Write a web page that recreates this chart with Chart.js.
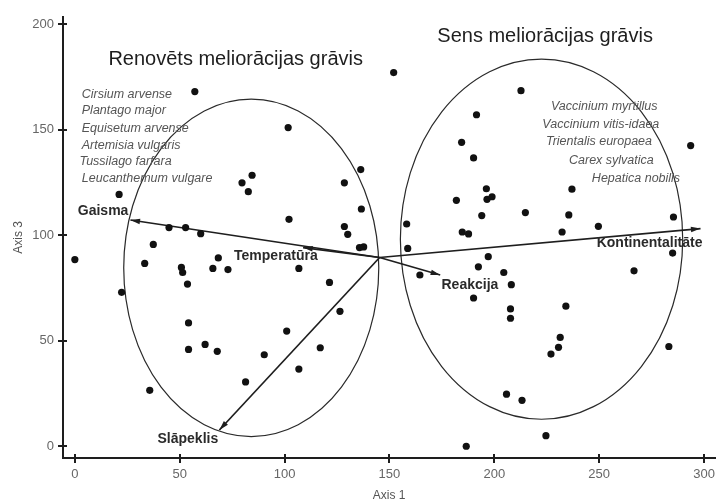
<!DOCTYPE html>
<html>
<head>
<meta charset="utf-8">
<script src="https://cdn.jsdelivr.net/npm/chart.js@4.4.1/dist/chart.umd.min.js"></script>
<style>
  html, body { margin: 0; padding: 0; background: #fff; }
  #wrap { width: 724px; height: 503px; }
</style>
</head>
<body>
<div id="wrap"><canvas id="ordination"></canvas></div>
<script>
// plot scores on Axis 1 / Axis 3 - renovated ditch
const renovX = [57.2, 21.1, 44.9, 52.8, 60.0, 37.4, 0, 68.4, 101.7, 84.5, 79.7, 82.7, 128.5, 136.3,
  136.6, 102.1, 128.5, 130.1, 135.7, 137.7, 33.3, 50.8, 51.4, 53.7, 65.8, 73.0, 106.8, 121.4, 126.4,
  22.3, 54.2, 101.0, 54.2, 62.1, 67.9, 90.3, 117.0, 106.8, 81.4, 35.7];
const renovY = [168.1, 119.3, 103.6, 103.6, 100.7, 95.6, 88.4, 89.2, 151.0, 128.4, 124.8, 120.6, 124.8, 131.1,
  112.4, 107.5, 104.1, 100.4, 94.1, 94.4, 86.6, 84.7, 82.3, 76.8, 84.2, 83.7, 84.2, 77.6, 63.9,
  72.9, 58.4, 54.5, 45.8, 48.2, 44.9, 43.3, 46.6, 36.5, 30.4, 26.4];

// old ditch
const sensX = [152.0, 212.7, 191.5, 184.4, 190.1, 196.2, 196.5, 198.9, 181.9, 214.8, 194.0, 158.2, 184.7,
  187.7, 158.7, 197.1, 293.6, 237.0, 235.5, 249.6, 232.3, 285.4, 285.0, 192.4, 164.5, 204.5, 208.1,
  190.1, 207.7, 207.7, 234.1, 266.6, 231.4, 230.6, 227.0, 283.2, 205.8, 213.2, 224.6, 186.6];
const sensY = [177.1, 168.5, 157.1, 144.0, 136.6, 122.0, 117.0, 118.2, 116.5, 110.7, 109.3, 105.3, 101.5,
  100.6, 93.7, 89.8, 142.5, 121.8, 109.6, 104.2, 101.5, 108.6, 91.5, 85.0, 81.1, 82.3, 76.5,
  70.2, 65.0, 60.6, 66.3, 83.1, 51.5, 46.8, 43.6, 47.2, 24.6, 21.7, 4.9, -0.1];

const xTicks = [0, 50, 100, 150, 200, 250, 300];
const yTicks = [0, 50, 100, 150, 200];

// environmental vectors (from a common origin)
const vecOrigin = [145.3, 89.4];
const vecNames = ['Gaisma', 'Temperatūra', 'Reakcija', 'Kontinentalitāte', 'Slāpeklis'];
const vecEndX = [26.5, 108.8, 174.2, 298.3, 68.9];
const vecEndY = [107.2, 94.1, 81.1, 103.1, 7.6];

// group ellipses
const ellCx = [84.1, 222.5];
const ellCy = [84.5, 98.1];
const ellRx = [60.8, 67.3];
const ellRy = [80.0, 85.4];

const groupNames = ['Renovēts meliorācijas grāvis', 'Sens meliorācijas grāvis'];
const renovSpecies = ['Cirsium arvense', 'Plantago major', 'Equisetum arvense', 'Artemisia vulgaris',
  'Tussilago farfara', 'Leucanthemum vulgare'];
const sensSpecies = ['Vaccinium myrtillus', 'Vaccinium vitis-idaea', 'Trientalis europaea',
  'Carex sylvatica', 'Hepatica nobilis'];

const FONT = '"Liberation Sans", Arial, sans-serif';

// where the texts sit, in data units
const titlePos = [[16.0, 183.2], [172.8, 194.1]];
const renovSpPos = [[3.3, 166.6], [3.3, 159.0], [3.3, 150.5], [3.3, 142.5], [2.2, 135.1], [3.3, 126.9]];
const sensSpPos = [[227.0, 161.0], [222.9, 152.7], [224.6, 144.2], [235.6, 135.4], [246.5, 126.7]];
const vecLabelPos = [[1.4, 111.5], [75.9, 90.2], [174.8, 76.4], [248.8, 96.0], [39.4, 3.3]];

const toPts = (xs, ys) => xs.map((v, i) => ({x: v, y: ys[i]}));

const overlay = {
    id: 'overlay',
    beforeDatasetsDraw(chart) {
        const {ctx, scales: {x, y}} = chart;
        ctx.save();
        // ellipses
        ctx.strokeStyle = '#2a2a2a';
        ctx.lineWidth = 1.2;
        for (let i = 0; i < ellCx.length; i++) {
            const cx = x.getPixelForValue(ellCx[i]);
            const cy = y.getPixelForValue(ellCy[i]);
            const rx = x.getPixelForValue(ellCx[i] + ellRx[i]) - cx;
            const ry = cy - y.getPixelForValue(ellCy[i] + ellRy[i]);
            ctx.beginPath();
            ctx.ellipse(cx, cy, rx, ry, 0, 0, Math.PI * 2);
            ctx.stroke();
        }
        // vectors with arrow heads
        const ox = x.getPixelForValue(vecOrigin[0]);
        const oy = y.getPixelForValue(vecOrigin[1]);
        ctx.strokeStyle = '#1e1e1e';
        ctx.fillStyle = '#1e1e1e';
        ctx.lineWidth = 1.7;
        vecEndX.forEach((vx, i) => {
            const ex = x.getPixelForValue(vx);
            const ey = y.getPixelForValue(vecEndY[i]);
            const a = Math.atan2(ey - oy, ex - ox);
            ctx.beginPath();
            ctx.moveTo(ox, oy);
            ctx.lineTo(ex, ey);
            ctx.stroke();
            ctx.beginPath();
            ctx.moveTo(ex, ey);
            ctx.lineTo(ex - 10 * Math.cos(a - 0.28), ey - 10 * Math.sin(a - 0.28));
            ctx.lineTo(ex - 10 * Math.cos(a + 0.28), ey - 10 * Math.sin(a + 0.28));
            ctx.closePath();
            ctx.fill();
        });
        ctx.restore();
    },
    afterDraw(chart) {
        const {ctx, scales: {x, y}, chartArea} = chart;
        ctx.save();
        // tick marks crossing the axis lines
        ctx.strokeStyle = '#1e1e1e';
        ctx.lineWidth = 2;
        xTicks.forEach(v => {
            const px = Math.round(x.getPixelForValue(v));
            ctx.beginPath();
            ctx.moveTo(px, chartArea.bottom - 4);
            ctx.lineTo(px, chartArea.bottom + 5);
            ctx.stroke();
        });
        yTicks.forEach(v => {
            const py = Math.round(y.getPixelForValue(v));
            ctx.beginPath();
            ctx.moveTo(chartArea.left - 5, py);
            ctx.lineTo(chartArea.left + 4, py);
            ctx.stroke();
        });

        ctx.textBaseline = 'middle';
        ctx.textAlign = 'left';
        const put = (txt, p) => ctx.fillText(txt, x.getPixelForValue(p[0]), y.getPixelForValue(p[1]));

        ctx.fillStyle = '#1e1e1e';
        ctx.font = '20px ' + FONT;
        groupNames.forEach((t, i) => put(t, titlePos[i]));

        ctx.fillStyle = '#555';
        ctx.font = 'italic 12.5px ' + FONT;
        renovSpecies.forEach((t, i) => put(t, renovSpPos[i]));
        sensSpecies.forEach((t, i) => put(t, sensSpPos[i]));

        ctx.fillStyle = '#2a2a2a';
        ctx.font = 'bold 14px ' + FONT;
        vecNames.forEach((t, i) => put(t, vecLabelPos[i]));
        ctx.restore();
    }
};

const ctx = document.getElementById('ordination').getContext('2d');
new Chart(ctx, {
    type: 'scatter',
    data: {
        datasets: [
            {data: toPts(renovX, renovY), backgroundColor: '#111', borderWidth: 0, pointRadius: 3.6},
            {data: toPts(sensX, sensY), backgroundColor: '#111', borderWidth: 0, pointRadius: 3.6}
        ]
    },
    options: {
        responsive: true,
        maintainAspectRatio: false,
        animation: false,
        layout: {padding: {top: 15, right: 1, left: 0, bottom: 0}},
        plugins: {legend: {display: false}, tooltip: {enabled: false}},
        scales: {
            x: {
                type: 'linear',
                min: -5.65,
                max: 305.33,
                afterBuildTicks: s => { s.ticks = xTicks.map(v => ({value: v})); },
                afterFit: s => { s.height = 45; },
                grid: {display: false, drawTicks: false},
                border: {display: true, color: '#1e1e1e', width: 2},
                ticks: {padding: 9, color: '#666', font: {family: FONT, size: 13}},
                title: {display: true, text: 'Axis 1', color: '#555', padding: {top: 0, bottom: 0},
                    font: {family: FONT, size: 12}}
            },
            y: {
                type: 'linear',
                min: -5.67,
                max: 203.54,
                afterBuildTicks: s => { s.ticks = yTicks.map(v => ({value: v})); },
                afterFit: s => { s.width = 63; },
                grid: {display: false, drawTicks: false},
                border: {display: true, color: '#1e1e1e', width: 2},
                ticks: {padding: 9, color: '#666', font: {family: FONT, size: 13}},
                title: {display: true, text: 'Axis 3', color: '#555', padding: {top: 11, bottom: 0},
                    font: {family: FONT, size: 12}}
            }
        }
    },
    plugins: [overlay]
});
</script>
</body>
</html>
